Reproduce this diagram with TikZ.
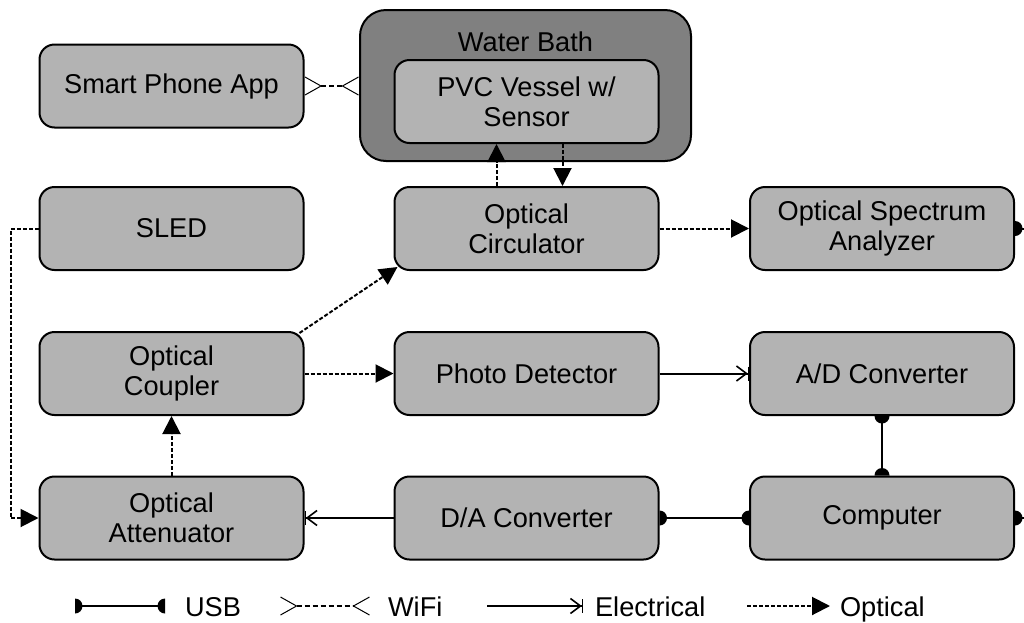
\documentclass[tikz,border=0pt]{standalone}
\usepackage{fontspec}
\setmainfont{Liberation Sans}
\usepackage{xcolor}
\usepackage{tikz}
\usetikzlibrary{arrows.meta,calc,positioning}

\definecolor{boxgray}{RGB}{179,179,179}
\definecolor{bathgray}{RGB}{128,128,128}

% half disc tip for the USB links
\pgfdeclarearrow{
  name = HalfDisc,
  setup code = {
    \pgfarrowssettipend{0pt}
    \pgfarrowssetlineend{-.5\pgfarrowlength}
    \pgfarrowssetvisualbackend{-\pgfarrowlength}
    \pgfarrowssetbackend{-\pgfarrowlength}
    \pgfarrowshullpoint{0pt}{\pgfarrowlength}
    \pgfarrowshullpoint{0pt}{-\pgfarrowlength}
    \pgfarrowshullpoint{-\pgfarrowlength}{0pt}
    \pgfarrowssavethe\pgfarrowlength
  },
  drawing code = {
    \pgfpathmoveto{\pgfpoint{0pt}{\pgfarrowlength}}
    \pgfpatharc{90}{270}{\pgfarrowlength}
    \pgfpathclose
    \pgfusepathqfill
  },
  parameters = {\the\pgfarrowlength},
  defaults = {length = 3.75pt}
}

\tikzset{
  block/.style={draw,line width=1pt,fill=boxgray,rounded corners=7.5pt,
    minimum width=132pt,minimum height=41.5pt,align=center,inner sep=2pt},
  optical/.style={line width=1pt,dash pattern=on 2pt off 1pt,
    -{Triangle[length=9pt,width=9pt]}},
  wifi/.style={line width=1pt,dash pattern=on 2.5pt off 1.5pt,
    {Straight Barb[reversed,length=8pt,width=9pt,line width=0.5pt]}-{Straight Barb[reversed,length=8pt,width=9pt,line width=0.5pt]}},
  electrical/.style={line width=1pt,
    -{Straight Barb[length=5pt,width=7.5pt,line width=0.8pt] Bar[width=7pt,line width=0.6pt]}},
  usb/.style={line width=1pt,{HalfDisc}-{HalfDisc}},
  legendtext/.style={anchor=base west},
}

\begin{document}
\begin{tikzpicture}[x=0.5pt,y=-0.5pt,font=\fontsize{13.6}{15}\selectfont]
  \useasboundingbox (0,0) rectangle (1024,622);

  % left column
  \node[block] (phone) at (171.5,86) {Smart Phone App};
  \node[block] (sled) at (171.5,228.5) {SLED};
  \node[block] (coupler) at (171.5,373.5) {Optical\\Coupler};
  \node[block] (atten) at (171.5,518) {Optical\\Attenuator};

  % water bath with vessel
  \node[draw,line width=1pt,fill=bathgray,rounded corners=13pt,
    minimum width=165.5pt,minimum height=75.5pt] (bath) at (525.5,85.5) {};
  \node (bathtitle) at (525.5,42) {Water Bath};
  \node[block] (vessel) at (526.5,101.5) {PVC Vessel w/\\Sensor};

  % middle column
  \node[block] (circ) at (526.5,228.5) {Optical\\Circulator};
  \node[block] (pd) at (526.5,373.5) {Photo Detector};
  \node[block] (dac) at (526.5,518) {D/A Converter};

  % right column
  \node[block] (osa) at (882,228.5) {Optical Spectrum\\Analyzer};
  \node[block] (adc) at (882,373.5) {A/D Converter};
  \node[block] (comp) at (882,518) {Computer};

  % links
  \draw[wifi] (phone.east) -- (phone.east -| bath.west);
  \draw[optical] (sled.west) -- ++(-28,0) |- (atten.west);
  \draw[optical] (atten) -- (coupler);
  \draw[optical] (coupler) -- (pd);
  \draw[optical] ([xshift=-2.5pt,yshift=-1pt]coupler.north east) -- ([xshift=2pt,yshift=2pt]circ.south west);
  \draw[optical] ([xshift=-15pt]circ.north) -- ([xshift=-15pt]vessel.south);
  \draw[optical] ([xshift=18pt]vessel.south) -- ([xshift=18pt]circ.north);
  \draw[optical] (circ) -- (osa);
  \draw[electrical] (pd) -- (adc);
  \draw[electrical] (dac) -- (atten);
  \draw[usb] (dac) -- (comp);
  \draw[usb] (adc) -- (comp);
  \draw[usb] (osa.east) -- ++(30,0) |- (comp.east);

  % legend
  \coordinate (usbA) at (75,606);
  \coordinate (usbB) at (165,606);
  \draw[usb] (usbA) -- (usbB);
  \node[legendtext] (usbtext) at (178,616) {USB};
  \coordinate (wifiA) at (280,606);
  \coordinate (wifiB) at (370,606);
  \draw[wifi] (wifiA) -- (wifiB);
  \node[legendtext] (wifitext) at (381,616) {WiFi};
  \coordinate (elecA) at (487,606);
  \coordinate (elecB) at (583,606);
  \draw[electrical] (elecA) -- (elecB);
  \node[legendtext] (electext) at (588,616) {Electrical};
  \coordinate (optA) at (747,606);
  \coordinate (optB) at (830,606);
  \draw[optical] (optA) -- (optB);
  \node[legendtext] (opttext) at (833,616) {Optical};
\end{tikzpicture}
\end{document}
